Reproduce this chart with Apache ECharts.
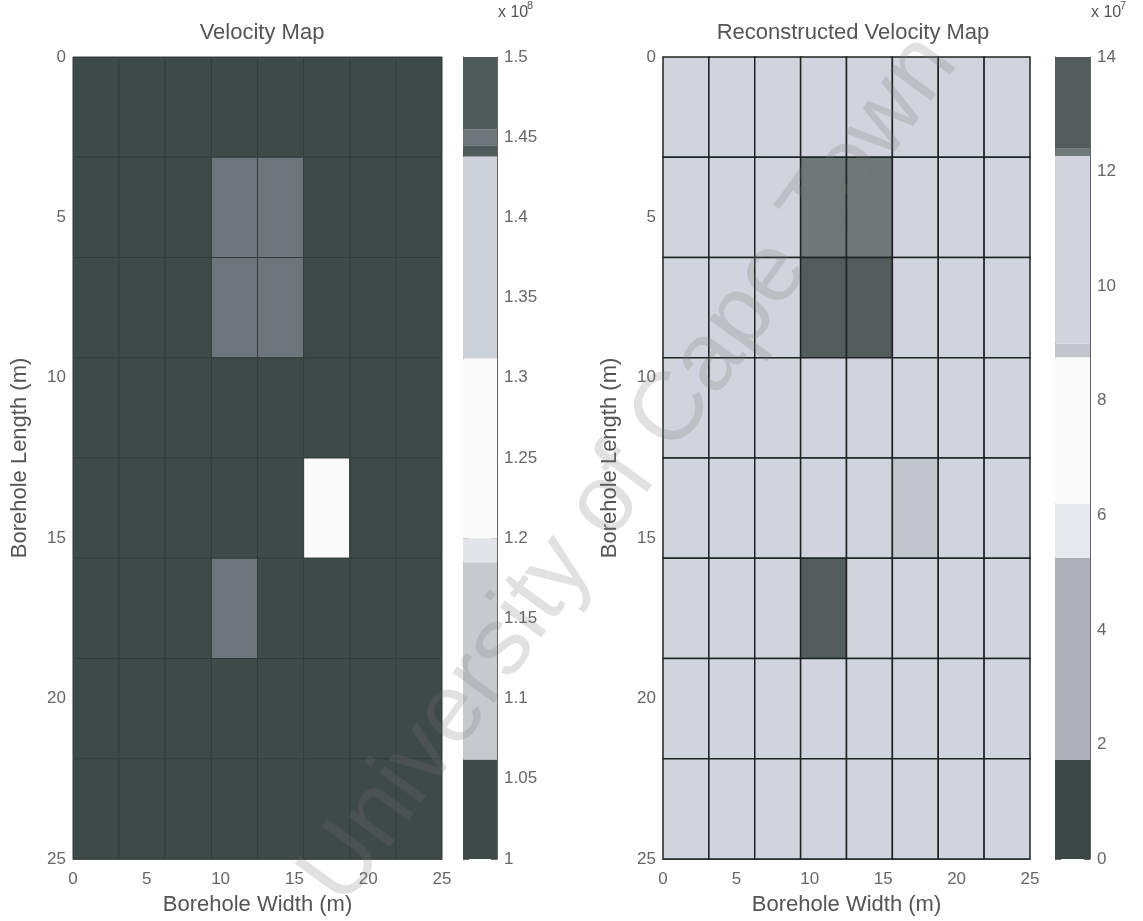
<!DOCTYPE html>
<html><head><meta charset="utf-8">
<script src="https://cdn.jsdelivr.net/npm/echarts@6/dist/echarts.min.js"></script>
<style>html,body{margin:0;padding:0;background:#fff}#c{width:1143px;height:921px}</style>
</head><body><div id="c"></div>
<script>
// ---------------- data ----------------
const cellSize = 3.125;               // metres per cell (8 x 8 cells over 25 m)
const axisMax = 25;
const leftTitle = 'Velocity Map';
const rightTitle = 'Reconstructed Velocity Map';
const xName = 'Borehole Width (m)';
const yName = 'Borehole Length (m)';
const leftExponent = '8';
const rightExponent = '7';
const watermark = 'University of Cape Town';

// velocity map, units of 1e8 (rows top -> bottom, columns left -> right)
const leftValues = [
  [1.00, 1.00, 1.00, 1.00, 1.00, 1.00, 1.00, 1.00],
  [1.00, 1.00, 1.00, 1.45, 1.45, 1.00, 1.00, 1.00],
  [1.00, 1.00, 1.00, 1.45, 1.45, 1.00, 1.00, 1.00],
  [1.00, 1.00, 1.00, 1.00, 1.00, 1.00, 1.00, 1.00],
  [1.00, 1.00, 1.00, 1.00, 1.00, 1.25, 1.00, 1.00],
  [1.00, 1.00, 1.00, 1.45, 1.00, 1.00, 1.00, 1.00],
  [1.00, 1.00, 1.00, 1.00, 1.00, 1.00, 1.00, 1.00],
  [1.00, 1.00, 1.00, 1.00, 1.00, 1.00, 1.00, 1.00]
];
// reconstructed velocity map, units of 1e7
const rightValues = [
  [10.5, 10.5, 10.5, 10.5, 10.5, 10.5, 10.5, 10.5],
  [10.5, 10.5, 10.5, 12.33, 12.33, 10.5, 10.5, 10.5],
  [10.5, 10.5, 10.5, 13.2, 13.2, 10.5, 10.5, 10.5],
  [10.5, 10.5, 10.5, 10.5, 10.5, 10.5, 10.5, 10.5],
  [10.5, 10.5, 10.5, 10.5, 10.5, 8.9, 10.5, 10.5],
  [10.5, 10.5, 10.5, 13.2, 10.5, 10.5, 10.5, 10.5],
  [10.5, 10.5, 10.5, 10.5, 10.5, 10.5, 10.5, 10.5],
  [10.5, 10.5, 10.5, 10.5, 10.5, 10.5, 10.5, 10.5]
];
// colour-bar bands [low, high]
const leftBands = [[1.00,1.062],[1.062,1.185],[1.185,1.20],[1.20,1.312],[1.312,1.438],[1.438,1.445],[1.445,1.455],[1.455,1.50]];
const rightBands = [[0,1.73],[1.73,5.26],[5.26,6.2],[6.2,8.76],[8.76,9.0],[9.0,12.27],[12.27,12.4],[12.4,14]];
const leftRange = [1, 1.5], leftStep = 0.05;
const rightRange = [0, 14], rightStep = 2;

// ---------------- styles ----------------
const leftBandColors  = ['#3e4a48','#c6cacf','#e2e5ea','#fbfbfc','#cbd0d9','#4f5a5b','#6b757a','#4f5a5b'];
const rightBandColors = ['#3c4846','#adb1b7','#e6e9ee','#fbfbfc','#c2c6cc','#d1d4dc','#6e7877','#525d5b'];
const FONT = 'Liberation Sans';
const TXT = '#555';

function cellsOf(m){ const out=[]; m.forEach((row,r)=>row.forEach((v,c)=>out.push([c,r,v]))); return out; }
function bandsOf(b){ return b.map(([lo,hi])=>[lo,hi,(lo+hi)/2]); }
function piecesOf(b,colors){ return b.map(([lo,hi],i)=>({gte:lo, lt:hi + (i===b.length-1?1e-9:0), color:colors[i]})); }

function cellRender(stroke, lw){
  return function(params, api){
    const c = api.value(0), r = api.value(1);
    const p1 = api.coord([c*cellSize, r*cellSize]);
    const p2 = api.coord([(c+1)*cellSize, (r+1)*cellSize]);
    return {type:'rect', shape:{x:Math.min(p1[0],p2[0]), y:Math.min(p1[1],p2[1]), width:Math.abs(p2[0]-p1[0]), height:Math.abs(p2[1]-p1[1])},
      style:{fill:api.visual('color'), stroke:stroke, lineWidth:lw}};
  };
}
function barRender(params, api){
  const p1 = api.coord([0, api.value(1)]);
  const p2 = api.coord([1, api.value(0)]);
  return {type:'rect', shape:{x:p1[0], y:Math.min(p1[1],p2[1]), width:p2[0]-p1[0], height:Math.abs(p2[1]-p1[1])},
    style:{fill:api.visual('color')}};
}

const grids = [
  {left:73, top:57, width:369, height:802},
  {left:463, top:57, width:34, height:802},
  {left:663, top:57, width:367, height:802},
  {left:1055, top:57, width:35, height:802}
];

function mapX(g){ return {type:'value', gridIndex:g, min:0, max:axisMax, interval:5,
  axisLine:{show:true, onZero:false, lineStyle:{color:'#666'}}, axisTick:{show:false}, splitLine:{show:false},
  axisLabel:{color:'#666', fontFamily:FONT, fontSize:17, margin:12},
  name:xName, nameLocation:'middle', nameGap:35, nameTextStyle:{color:TXT, fontFamily:FONT, fontSize:22}}; }
function mapY(g){ return {type:'value', gridIndex:g, min:0, max:axisMax, interval:5, inverse:true,
  axisLine:{show:true, onZero:false, lineStyle:{color:'#666'}}, axisTick:{show:false}, splitLine:{show:false},
  axisLabel:{color:'#666', fontFamily:FONT, fontSize:17, margin:7},
  name:yName, nameLocation:'middle', nameGap:42, nameTextStyle:{color:TXT, fontFamily:FONT, fontSize:22}}; }
function barX(g){ return {type:'value', gridIndex:g, min:0, max:1, show:false}; }
function barY(g, range, step, pos, labels){ return {type:'value', gridIndex:g, min:range[0], max:range[1], interval:step, position:pos,
  axisLine:{show:true, onZero:false, lineStyle:{color:'#666'}}, splitLine:{show:false},
  axisTick:{show:true, inside:true, length:6, lineStyle:{color:'#666'}},
  axisLabel:{show:labels, color:'#666', fontFamily:FONT, fontSize:17, margin:7, formatter:v=>String(parseFloat(v.toFixed(2)))}}; }

const option = {
  backgroundColor:'#fff',
  animation:false,
  title:[
    {text:leftTitle, left:257, top:17, textAlign:'center', textStyle:{color:TXT, fontFamily:FONT, fontSize:22, fontWeight:'normal'}},
    {text:rightTitle, left:848, top:17, textAlign:'center', textStyle:{color:TXT, fontFamily:FONT, fontSize:22, fontWeight:'normal'}}
  ],
  grid:grids,
  xAxis:[mapX(0), barX(1), mapX(2), barX(3)],
  yAxis:[mapY(0), barY(1,leftRange,leftStep,'right',true), barY(1,leftRange,leftStep,'left',false),
         mapY(2), barY(3,rightRange,rightStep,'right',true), barY(3,rightRange,rightStep,'left',false)],
  visualMap:[
    {type:'piecewise', show:false, dimension:2, seriesIndex:[0,1], pieces:piecesOf(leftBands,leftBandColors)},
    {type:'piecewise', show:false, dimension:2, seriesIndex:[2,3], pieces:piecesOf(rightBands,rightBandColors)}
  ],
  series:[
    {type:'custom', xAxisIndex:0, yAxisIndex:0, renderItem:cellRender('#323d3b',1), data:cellsOf(leftValues), z:1},
    {type:'custom', xAxisIndex:1, yAxisIndex:1, renderItem:barRender, data:bandsOf(leftBands), z:1},
    {type:'custom', xAxisIndex:2, yAxisIndex:3, renderItem:cellRender('#1e2423',1.5), data:cellsOf(rightValues), z:1},
    {type:'custom', xAxisIndex:3, yAxisIndex:4, renderItem:barRender, data:bandsOf(rightBands), z:1}
  ],
  graphic:[
    {type:'text', left:498, top:5, style:{text:'x 10', fill:TXT, font:'16px "'+FONT+'"'}},
    {type:'text', left:527, top:0, style:{text:leftExponent, fill:TXT, font:'11px "'+FONT+'"'}},
    {type:'text', left:1091, top:5, style:{text:'x 10', fill:TXT, font:'16px "'+FONT+'"'}},
    {type:'text', left:1120, top:0, style:{text:rightExponent, fill:TXT, font:'11px "'+FONT+'"'}},
    {type:'text', x:630, y:470, rotation:54*Math.PI/180, z:100,
      style:{text:watermark, fill:'rgba(120,120,120,0.22)', font:'97px "'+FONT+'"', align:'center', verticalAlign:'middle', textAlign:'center', textVerticalAlign:'middle'}}
  ]
};
echarts.init(document.getElementById('c')).setOption(option);
</script></body></html>
